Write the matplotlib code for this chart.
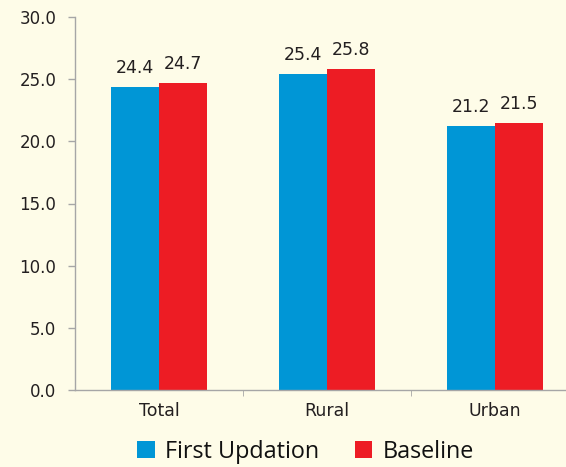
import matplotlib
matplotlib.use('Agg')
import matplotlib.pyplot as plt
import numpy as np

# Data
categories = ['Total', 'Rural', 'Urban']
first_updation = [24.4, 25.4, 21.2]
baseline = [24.7, 25.8, 21.5]
series_names = ['First Updation', 'Baseline']

bg = '#FEFCE8'
blue = '#0096D6'
red = '#ED1C24'
txt = '#231F20'
axis_col = '#A6A6A6'

fig = plt.figure(figsize=(5.66, 4.67), dpi=100, facecolor=bg)
ax = fig.add_axes([75 / 566, 77 / 467, 491 / 566, 373 / 467], facecolor=bg)

x = np.arange(len(categories))
w = 0.285
b1 = ax.bar(x - w / 2, first_updation, w, color=blue, label=series_names[0])
b2 = ax.bar(x + w / 2, baseline, w, color=red, label=series_names[1])

for bars, vals in ((b1, first_updation), (b2, baseline)):
    for bar, v in zip(bars, vals):
        ax.text(bar.get_x() + bar.get_width() / 2, v + 0.8, f'{v:.1f}',
                ha='center', va='bottom', fontsize=12.5, color=txt)

ax.set_ylim(0, 30)
ax.set_xlim(-0.5, 491 / 168 - 0.5)
ax.set_yticks(np.arange(0, 31, 5))
ax.set_yticklabels([f'{t:.1f}' for t in np.arange(0, 31, 5)], fontsize=12, color=txt)

# category labels centred, tick marks on the boundaries
ax.set_xticks(x)
ax.set_xticklabels(categories, fontsize=12.5, color=txt)
ax.tick_params(axis='x', length=0, pad=9)
ax.set_xticks(x[:-1] + 0.5, minor=True)
ax.tick_params(axis='x', which='minor', length=4.5, color=axis_col, direction='out')
ax.tick_params(axis='y', length=5, color=axis_col, width=1, pad=8.5)

for s in ('top', 'right'):
    ax.spines[s].set_visible(False)
for s in ('left', 'bottom'):
    ax.spines[s].set_color(axis_col)
    ax.spines[s].set_linewidth(1)

leg = fig.legend(handles=[b1, b2], loc='lower center', bbox_to_anchor=(0.54, -0.038),
                 ncol=2, frameon=False, handlelength=0.75, handleheight=0.75,
                 handletextpad=0.45, columnspacing=1.5, prop={'family': 'Open Sans', 'size': 16.8})
for t in leg.get_texts():
    t.set_color('#111111')

fig.savefig('out.png', dpi=100, facecolor=bg)
